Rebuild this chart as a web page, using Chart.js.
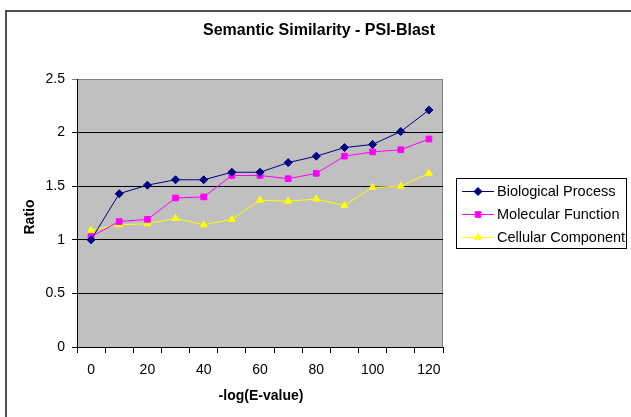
<!DOCTYPE html>
<html>
<head>
<meta charset="utf-8">
<script src="https://cdn.jsdelivr.net/npm/chart.js@4"></script>
<style>
  html, body { margin: 0; padding: 0; background: #fff; }
  #wrap { width: 631px; height: 417px; position: relative; }
</style>
</head>
<body>
<div id="wrap"><canvas id="simChart"></canvas></div>
<script>
var categories = ['0', '10', '20', '30', '40', '50', '60', '70', '80', '90', '100', '110', '120'];
var biological = [1.00, 1.43, 1.51, 1.56, 1.56, 1.63, 1.63, 1.72, 1.78, 1.86, 1.89, 2.01, 2.21];
var molecular = [1.03, 1.17, 1.19, 1.39, 1.40, 1.60, 1.60, 1.57, 1.62, 1.78, 1.82, 1.84, 1.94];
var cellular = [1.09, 1.14, 1.15, 1.20, 1.14, 1.19, 1.37, 1.36, 1.38, 1.32, 1.49, 1.50, 1.62];
var yTicks = [0, 0.5, 1, 1.5, 2, 2.5];

var FONT = "'Liberation Sans', Arial, sans-serif";

// plot background, frame, titles and the boxed legend (Excel look)
var excelDecor = {
    id: 'excelDecor',
    beforeDraw: function(chart) {
        var c = chart.ctx, a = chart.chartArea;
        c.save();
        c.fillStyle = '#fff';
        c.fillRect(0, 0, chart.width, chart.height);
        c.fillStyle = '#c0c0c0';
        c.fillRect(a.left, a.top, a.right - a.left, a.bottom - a.top);
        c.strokeStyle = '#808080';
        c.lineWidth = 1;
        c.beginPath();
        c.moveTo(a.left, a.top + 0.5);
        c.lineTo(a.right - 0.5, a.top + 0.5);
        c.lineTo(a.right - 0.5, a.bottom);
        c.stroke();
        // outer chart frame (top + left only visible)
        c.strokeStyle = '#505050';
        c.lineWidth = 2;
        c.beginPath();
        c.moveTo(6, chart.height);
        c.lineTo(6, 11);
        c.lineTo(chart.width, 11);
        c.stroke();
        c.restore();
    },
    afterDraw: function(chart) {
        var c = chart.ctx;
        c.save();
        c.fillStyle = '#000';
        c.textAlign = 'center';
        c.textBaseline = 'middle';
        c.font = 'bold 16px ' + FONT;
        c.fillText('Semantic Similarity - PSI-Blast', 319, 31);
        c.font = 'bold 14px ' + FONT;
        c.fillText('-log(E-value)', 261, 396);
        c.translate(30, 217);
        c.rotate(-Math.PI / 2);
        c.fillText('Ratio', 0, 0);
        c.restore();

        // legend
        c.save();
        c.fillStyle = '#fff';
        c.fillRect(456, 178, 170, 70);
        c.strokeStyle = '#000';
        c.lineWidth = 1;
        c.strokeRect(456.5, 178.5, 170, 70);
        var rows = [191, 214, 237];
        chart.data.datasets.forEach(function(ds, i) {
            var y = rows[i];
            c.strokeStyle = ds.borderColor;
            c.lineWidth = 1;
            c.beginPath();
            c.moveTo(462, y + 0.5);
            c.lineTo(494, y + 0.5);
            c.stroke();
            c.fillStyle = ds.pointBackgroundColor;
            c.strokeStyle = ds.pointBorderColor;
            Chart.helpers.drawPoint(c, {
                pointStyle: ds.pointStyle,
                radius: ds.pointRadius,
                borderWidth: 1
            }, 478, y + 0.5);
            c.fillStyle = '#000';
            c.font = '14.5px ' + FONT;
            c.textAlign = 'left';
            c.textBaseline = 'middle';
            c.fillText(ds.label, 497, y + 1);
        });
        c.restore();
    }
};

var ctx = document.getElementById('simChart').getContext('2d');
var simChart = new Chart(ctx, {
    type: 'line',
    data: {
        labels: categories,
        datasets: [{
            label: 'Biological Process',
            data: biological,
            borderColor: '#000080',
            pointBackgroundColor: '#000080',
            pointBorderColor: '#000080',
            pointStyle: 'rectRot',
            pointRadius: 4,
            borderWidth: 1,
            tension: 0
        }, {
            label: 'Molecular Function',
            data: molecular,
            borderColor: '#ff00ff',
            pointBackgroundColor: '#ff00ff',
            pointBorderColor: '#ff00ff',
            pointStyle: 'rect',
            pointRadius: 4,
            borderWidth: 1,
            tension: 0
        }, {
            label: 'Cellular Component',
            data: cellular,
            borderColor: '#ffff00',
            pointBackgroundColor: '#ffff00',
            pointBorderColor: '#ffff00',
            pointStyle: 'triangle',
            pointRadius: 4,
            borderWidth: 1,
            tension: 0
        }]
    },
    options: {
        responsive: true,
        maintainAspectRatio: false,
        animation: false,
        layout: { padding: { left: 0, top: 79, right: 188, bottom: 0 } },
        plugins: {
            legend: { display: false },
            title: { display: false },
            tooltip: { enabled: false }
        },
        scales: {
            x: {
                type: 'category',
                offset: true,
                afterFit: function(scale) { scale.height = 70; },
                grid: {
                    offset: true,
                    drawOnChartArea: false,
                    drawTicks: true,
                    tickLength: 6,
                    color: '#000'
                },
                border: { color: '#000' },
                ticks: {
                    autoSkip: false,
                    maxRotation: 0,
                    padding: 9,
                    color: '#000',
                    font: { family: FONT, size: 14 },
                    callback: function(v, i) { return i % 2 === 0 ? categories[i] : ''; }
                }
            },
            y: {
                min: 0,
                max: 2.5,
                afterFit: function(scale) { scale.width = 77; },
                afterBuildTicks: function(scale) {
                    scale.ticks = yTicks.map(function(v) { return { value: v }; });
                },
                grid: {
                    color: function(c) { return c.tick && c.tick.value === 2.5 ? '#808080' : '#000'; },
                    tickLength: 5,
                    lineWidth: 1
                },
                border: { color: '#000' },
                ticks: {
                    padding: 7,
                    color: '#000',
                    font: { family: FONT, size: 14 },
                    callback: function(v) { return String(v); }
                }
            }
        }
    },
    plugins: [excelDecor]
});
</script>
</body>
</html>
